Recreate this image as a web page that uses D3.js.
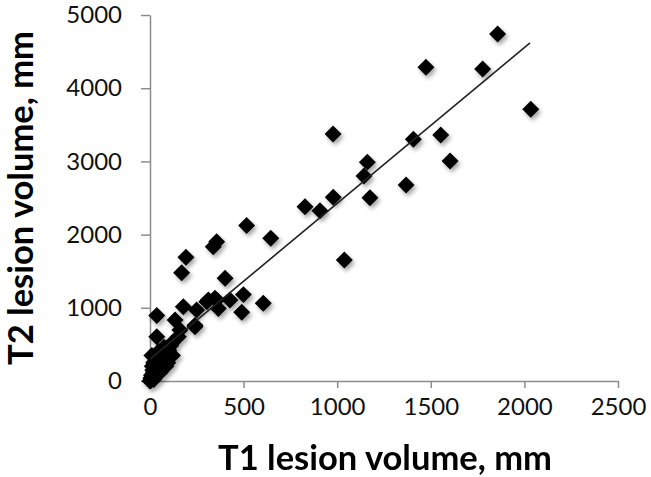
<!DOCTYPE html>
<html>
<head>
<meta charset="utf-8">
<script src="https://cdn.jsdelivr.net/npm/d3@7"></script>
<style>
  body { margin: 0; background: #fff; }
  svg { display: block; }
</style>
</head>
<body>
<svg width="651" height="477"></svg>
<script>
// T1 vs T2 lesion volumes
const t1 = [
  1857, 1474, 1777, 2034, 1553, 1603, 1407, 1368,
  1161, 1143, 1175, 979, 978, 828, 908, 1038,
  516, 645, 356, 338, 192, 169, 401, 499, 605, 490,
  312, 356, 427, 365, 178, 249, 240, 303, 347,
  36, 134, 151, 36, 116, 160, 240,
  5, 10, 15, 20, 25, 30, 8, 12, 20, 35, 40, 50, 60, 45,
  70, 80, 90, 100, 30, 15, 55, 65, 25, 110, 75, 5, 3, 18, 95, 60,
  0, 10, 40, 85, 120
];
const t2 = [
  4740, 4285, 4262, 3711, 3360, 3005, 3302, 2677,
  2990, 2800, 2504, 2509, 3374, 2381, 2326, 1653,
  2125, 1949, 1903, 1835, 1690, 1479, 1403, 1180, 1061, 940,
  1106, 1106, 1106, 990, 1015, 970, 740, 1083, 1130,
  895, 833, 605, 605, 515, 697, 760,
  10, 30, 60, 20, 100, 150, 80, 200, 250, 180, 300, 220, 350, 400,
  280, 380, 300, 420, 330, 150, 120, 200, 260, 480, 460, 40, 5, 120, 250, 160,
  0, 350, 100, 200, 350
];
const xTicks = [0, 500, 1000, 1500, 2000, 2500];
const yTicks = [0, 1000, 2000, 3000, 4000, 5000];
// linear trend line ends
const trendX = [0, 2030];
const trendY = [300, 4620];

const svg = d3.select("svg");

const x = d3.scaleLinear().domain([0, 2500]).range([150, 618]);
const y = d3.scaleLinear().domain([0, 5000]).range([381, 15]);

const defs = svg.append("defs");
defs.append("filter")
  .attr("id", "shadow")
  .attr("x", "-50%").attr("y", "-50%")
  .attr("width", "200%").attr("height", "200%")
  .append("feDropShadow")
  .attr("dx", 2).attr("dy", 3)
  .attr("stdDeviation", 2)
  .attr("flood-color", "#000")
  .attr("flood-opacity", 0.35);

// axes
const xAxis = svg.append("g")
  .attr("transform", `translate(0,${y(0)})`)
  .call(d3.axisBottom(x).tickValues(xTicks).tickFormat(d3.format("d"))
    .tickSize(7).tickPadding(10).tickSizeOuter(0));
const yAxis = svg.append("g")
  .attr("transform", `translate(${x(0)},0)`)
  .call(d3.axisLeft(y).tickValues(yTicks).tickFormat(d3.format("d"))
    .tickSize(9).tickPadding(19).tickSizeOuter(0));

[xAxis, yAxis].forEach(g => {
  g.select(".domain").attr("stroke", "#8c8c8c").attr("stroke-width", 1.5);
  g.selectAll(".tick line").attr("stroke", "#8c8c8c").attr("stroke-width", 1.5);
  g.selectAll(".tick text")
    .attr("fill", "#111")
    .style("font-family", "Lato, 'Open Sans', sans-serif")
    .style("font-size", "24px");
});

// points
const pts = t1.map((v, i) => ({ x: v, y: t2[i] }));
svg.append("g")
  .attr("filter", "url(#shadow)")
  .selectAll("path")
  .data(pts)
  .join("path")
  .attr("d", d3.symbol(d3.symbolSquare, 144))
  .attr("transform", d => `translate(${x(d.x)},${y(d.y)}) rotate(45)`)
  .attr("fill", "#000");

// trend line
svg.append("line")
  .attr("x1", x(trendX[0])).attr("y1", y(trendY[0]))
  .attr("x2", x(trendX[1])).attr("y2", y(trendY[1]))
  .attr("stroke", "#222")
  .attr("stroke-width", 1.6);

// axis titles
svg.append("text")
  .attr("x", 385)
  .attr("y", 470)
  .attr("text-anchor", "middle")
  .style("font-family", "Lato, 'Open Sans', sans-serif")
  .style("font-weight", "bold")
  .style("font-size", "34.5px")
  .text("T1 lesion volume, mm");

svg.append("text")
  .attr("transform", "translate(33,198) rotate(-90)")
  .attr("text-anchor", "middle")
  .style("font-family", "Lato, 'Open Sans', sans-serif")
  .style("font-weight", "bold")
  .style("font-size", "34.5px")
  .text("T2 lesion volume, mm");
</script>
</body>
</html>
